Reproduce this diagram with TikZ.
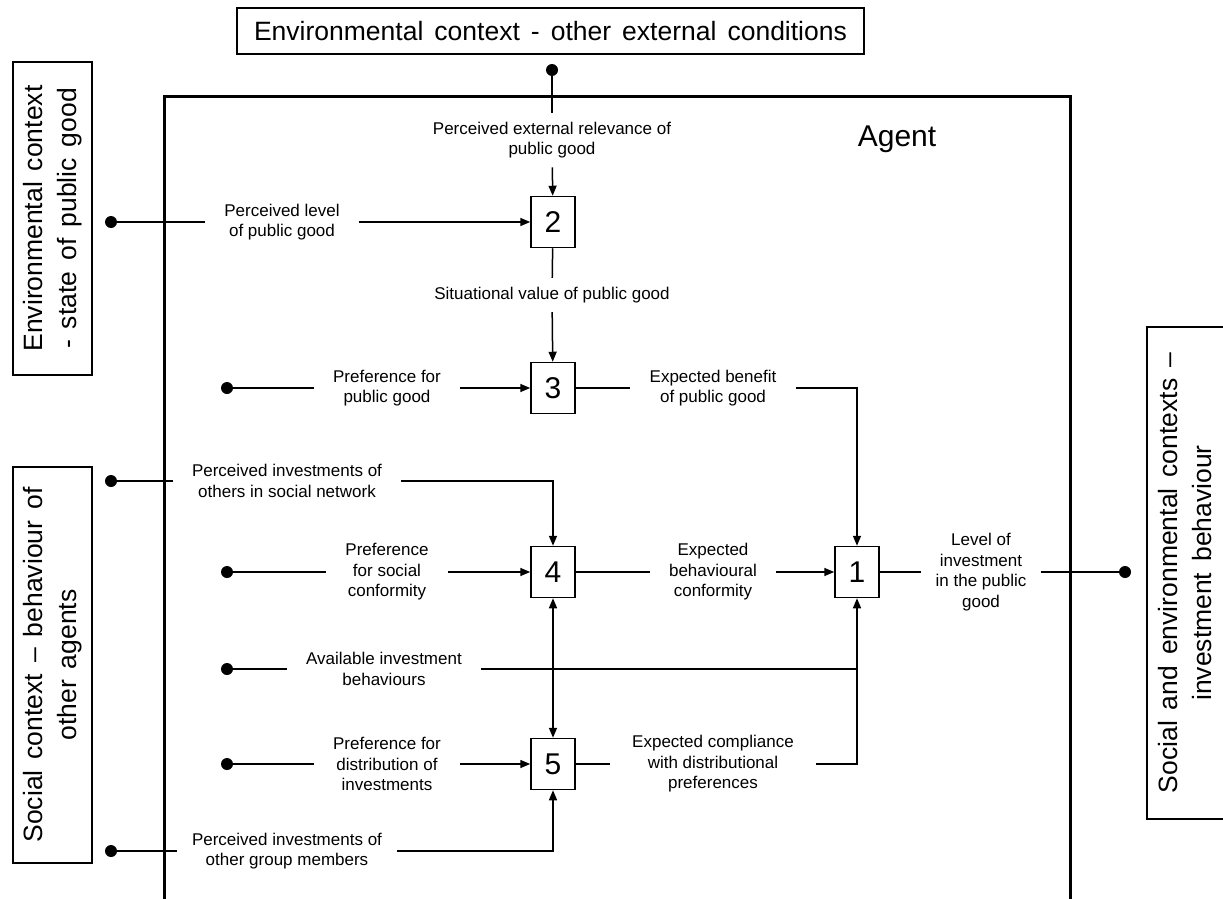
\documentclass[tikz,border=0pt]{standalone}
\usepackage{fontspec}
\setmainfont{Liberation Sans}
\newfontfamily\ctxfont{Liberation Sans}[WordSpace=1.5]
\usetikzlibrary{arrows.meta}

\begin{document}
\begin{tikzpicture}[x=1pt,y=-1pt,
  lbl/.style={align=center, font=\fontsize{17}{20.5}\selectfont, inner xsep=19pt, inner ysep=9pt},
  proc/.style={draw, line width=1.5pt, minimum width=44pt, minimum height=51pt, inner sep=0pt,
               font=\fontsize{30}{30}\selectfont},
  ctx/.style={draw, line width=1.3pt, align=center, font=\ctxfont\fontsize{26.5}{34}\selectfont, inner sep=0pt},
  enddot/.style={circle, fill, inner sep=0pt, minimum size=12pt},
  conn/.style={line width=1.5pt},
  arr/.style={conn, -{Triangle[length=10pt,width=8pt]}},
  dblarr/.style={conn, {Triangle[length=10pt,width=8pt]}-{Triangle[length=10pt,width=8pt]}}]
\useasboundingbox (0,0) rectangle (1223,899);

% agent frame, open at the bottom
\draw[line width=3pt] (164,910) -- (164,96) -- (1070,96) -- (1070,910);
\node[font=\fontsize{30}{30}\selectfont] (agentlbl) at (897,139) {Agent};

% surrounding contexts
\node[ctx, minimum width=627pt, minimum height=46pt] (ctxtop) at (550.5,31)
  {Environmental context - other external conditions};
\node[ctx, rotate=90, minimum width=313pt, minimum height=79pt] (ctxenv) at (52.5,218.5)
  {Environmental context\\- state of public good};
\node[ctx, rotate=90, minimum width=396pt, minimum height=79pt] (ctxsoc) at (52.5,665)
  {Social context – behaviour of\\other agents};
\node[ctx, rotate=90, minimum width=492pt, minimum height=77pt] (ctxout) at (1185.5,573)
  {Social and environmental contexts –\\investment behaviour};

% process boxes
\node[proc] (b2) at (553,222) {2};
\node[proc] (b3) at (553,388) {3};
\node[proc] (b4) at (553,572) {4};
\node[proc] (b5) at (553,764) {5};
\node[proc] (b1) at (857,572) {1};

% end points
\node[enddot] (dtop) at (552,70) {};
\node[enddot] (dlvl) at (111,222) {};
\node[enddot] (dpref3) at (227,388) {};
\node[enddot] (dsn) at (111,481) {};
\node[enddot] (dpref4) at (227,572) {};
\node[enddot] (dav) at (227,669) {};
\node[enddot] (dpref5) at (227,764) {};
\node[enddot] (dgm) at (111,851) {};
\node[enddot] (dout) at (1125,572) {};

% labels
\node[lbl] (lext) at (552,140) {Perceived external relevance of\\public good};
\node[lbl] (llvl) at (282,222) {Perceived level\\of public good};
\node[lbl] (lsit) at (552,295) {Situational value of public good};
\node[lbl] (lpref3) at (387,388) {Preference for\\public good};
\node[lbl] (lben) at (713,388) {Expected benefit\\of public good};
\node[lbl] (lsn) at (287,481) {Perceived investments of\\others in social network};
\node[lbl] (lpref4) at (387,572) {Preference\\for social\\conformity};
\node[lbl] (lbeh) at (713,572) {Expected\\behavioural\\conformity};
\node[lbl, inner xsep=14pt] (llev) at (981,572) {Level of\\investment\\in the public\\good};
\node[lbl] (lav) at (384,669) {Available investment\\behaviours};
\node[lbl] (lpref5) at (387,764) {Preference for\\distribution of\\investments};
\node[lbl, inner xsep=22pt] (lcomp) at (713,764) {Expected compliance\\with distributional\\preferences};
\node[lbl, inner xsep=15pt] (lgm) at (287,851) {Perceived investments of\\other group members};

% connectors
\draw[conn] (dtop) -- (lext);
\draw[arr] (lext) -- (b2);
\draw[conn] (dlvl) -- (llvl);
\draw[arr] (llvl) -- (b2);
\draw[conn] (b2) -- (lsit);
\draw[arr] (lsit) -- (b3);
\draw[conn] (dpref3) -- (lpref3);
\draw[arr] (lpref3) -- (b3);
\draw[conn] (b3) -- (lben);
\draw[arr] (lben) -| (b1);
\draw[conn] (dsn) -- (lsn);
\draw[arr] (lsn) -| (b4);
\draw[conn] (dpref4) -- (lpref4);
\draw[arr] (lpref4) -- (b4);
\draw[conn] (b4) -- (lbeh);
\draw[arr] (lbeh) -- (b1);
\draw[conn] (b1) -- (llev);
\draw[conn] (llev) -- (dout);
\draw[conn] (dav) -- (lav);
\draw[conn] (lav) -- (b1 |- lav);
\draw[dblarr] (b4) -- (b5);
\draw[conn] (dpref5) -- (lpref5);
\draw[arr] (lpref5) -- (b5);
\draw[conn] (b5) -- (lcomp);
\draw[arr] (lcomp) -| (b1);
\draw[conn] (dgm) -- (lgm);
\draw[arr] (lgm) -| (b5);
\end{tikzpicture}
\end{document}
